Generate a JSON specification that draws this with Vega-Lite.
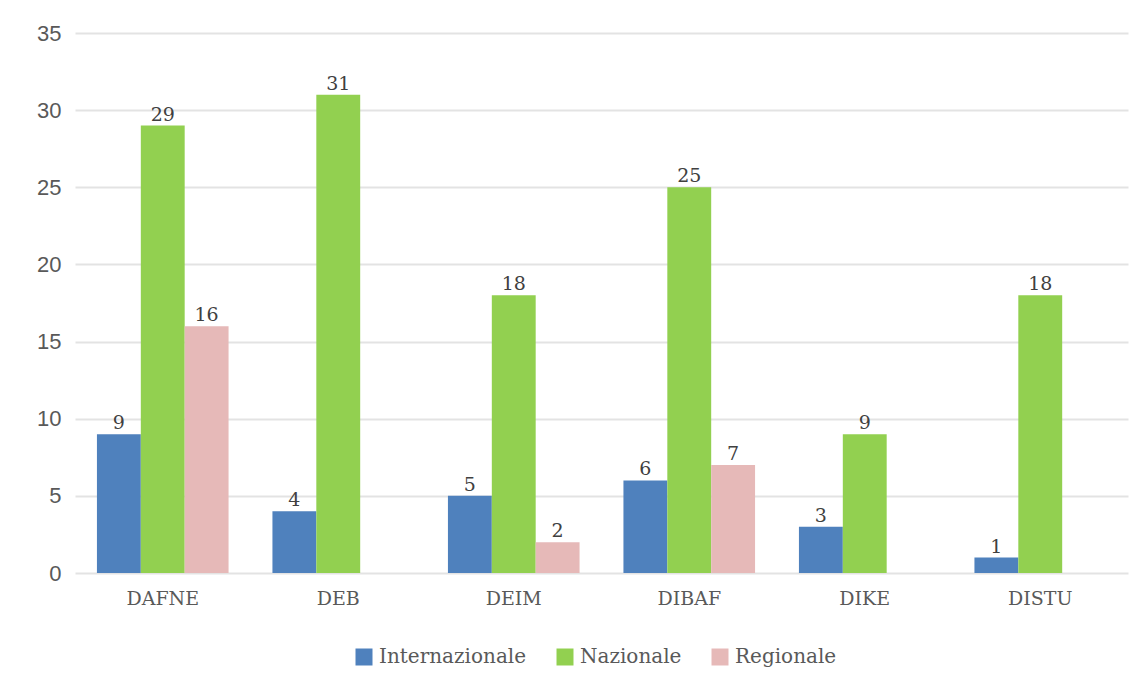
{
  "$schema": "https://vega.github.io/schema/vega-lite/v6.json",
  "autosize": {"type": "none"},
  "width": 1053,
  "height": 540,
  "padding": {"left": 75, "top": 33, "right": 15, "bottom": 118},
  "background": "white",
  "data": {"values": [
    {"dip": "DAFNE", "tipo": "Internazionale", "n": 9},
    {"dip": "DAFNE", "tipo": "Nazionale", "n": 29},
    {"dip": "DAFNE", "tipo": "Regionale", "n": 16},
    {"dip": "DEB", "tipo": "Internazionale", "n": 4},
    {"dip": "DEB", "tipo": "Nazionale", "n": 31},
    {"dip": "DEB", "tipo": "Regionale", "n": 0},
    {"dip": "DEIM", "tipo": "Internazionale", "n": 5},
    {"dip": "DEIM", "tipo": "Nazionale", "n": 18},
    {"dip": "DEIM", "tipo": "Regionale", "n": 2},
    {"dip": "DIBAF", "tipo": "Internazionale", "n": 6},
    {"dip": "DIBAF", "tipo": "Nazionale", "n": 25},
    {"dip": "DIBAF", "tipo": "Regionale", "n": 7},
    {"dip": "DIKE", "tipo": "Internazionale", "n": 3},
    {"dip": "DIKE", "tipo": "Nazionale", "n": 9},
    {"dip": "DIKE", "tipo": "Regionale", "n": 0},
    {"dip": "DISTU", "tipo": "Internazionale", "n": 1},
    {"dip": "DISTU", "tipo": "Nazionale", "n": 18},
    {"dip": "DISTU", "tipo": "Regionale", "n": 0}
  ]},
  "encoding": {
    "x": {
      "field": "dip", "type": "nominal", "sort": null,
      "scale": {"paddingInner": 0.25, "paddingOuter": 0.125},
      "axis": {"title": null, "labelAngle": 0, "domain": false, "ticks": false, "labelPadding": 16,
               "labelFont": "DejaVu Serif", "labelFontSize": 19, "labelColor": "#595959"}
    },
    "xOffset": {"field": "tipo", "type": "nominal", "sort": ["Internazionale", "Nazionale", "Regionale"]},
    "y": {
      "field": "n", "type": "quantitative",
      "scale": {"domain": [0, 35]},
      "axis": {"title": null, "values": [0, 5, 10, 15, 20, 25, 30, 35], "domain": false, "ticks": false,
               "labelPadding": 14, "labelFont": "Liberation Sans", "labelFontSize": 22, "labelColor": "#595959",
               "gridColor": "#e3e3e3", "gridWidth": 2}
    }
  },
  "layer": [
    {
      "mark": {"type": "bar"},
      "encoding": {
        "color": {
          "field": "tipo", "type": "nominal",
          "scale": {"domain": ["Internazionale", "Nazionale", "Regionale"], "range": ["#4f81bd", "#92d050", "#e6b9b8"]},
          "legend": {
            "title": null, "orient": "none", "direction": "horizontal", "legendX": 279, "legendY": 614,
            "symbolType": "square", "symbolSize": 289, "symbolStrokeWidth": 0, "labelFont": "DejaVu Serif",
            "labelFontSize": 20, "labelColor": "#595959", "columnPadding": 28, "labelOffset": 5
          }
        }
      }
    },
    {
      "transform": [{"filter": "datum.n > 0"}],
      "mark": {"type": "text", "baseline": "bottom", "dy": -1, "font": "DejaVu Serif", "fontSize": 19, "color": "#404040"},
      "encoding": {"text": {"field": "n", "type": "quantitative"}}
    }
  ],
  "config": {"view": {"stroke": null}}
}
